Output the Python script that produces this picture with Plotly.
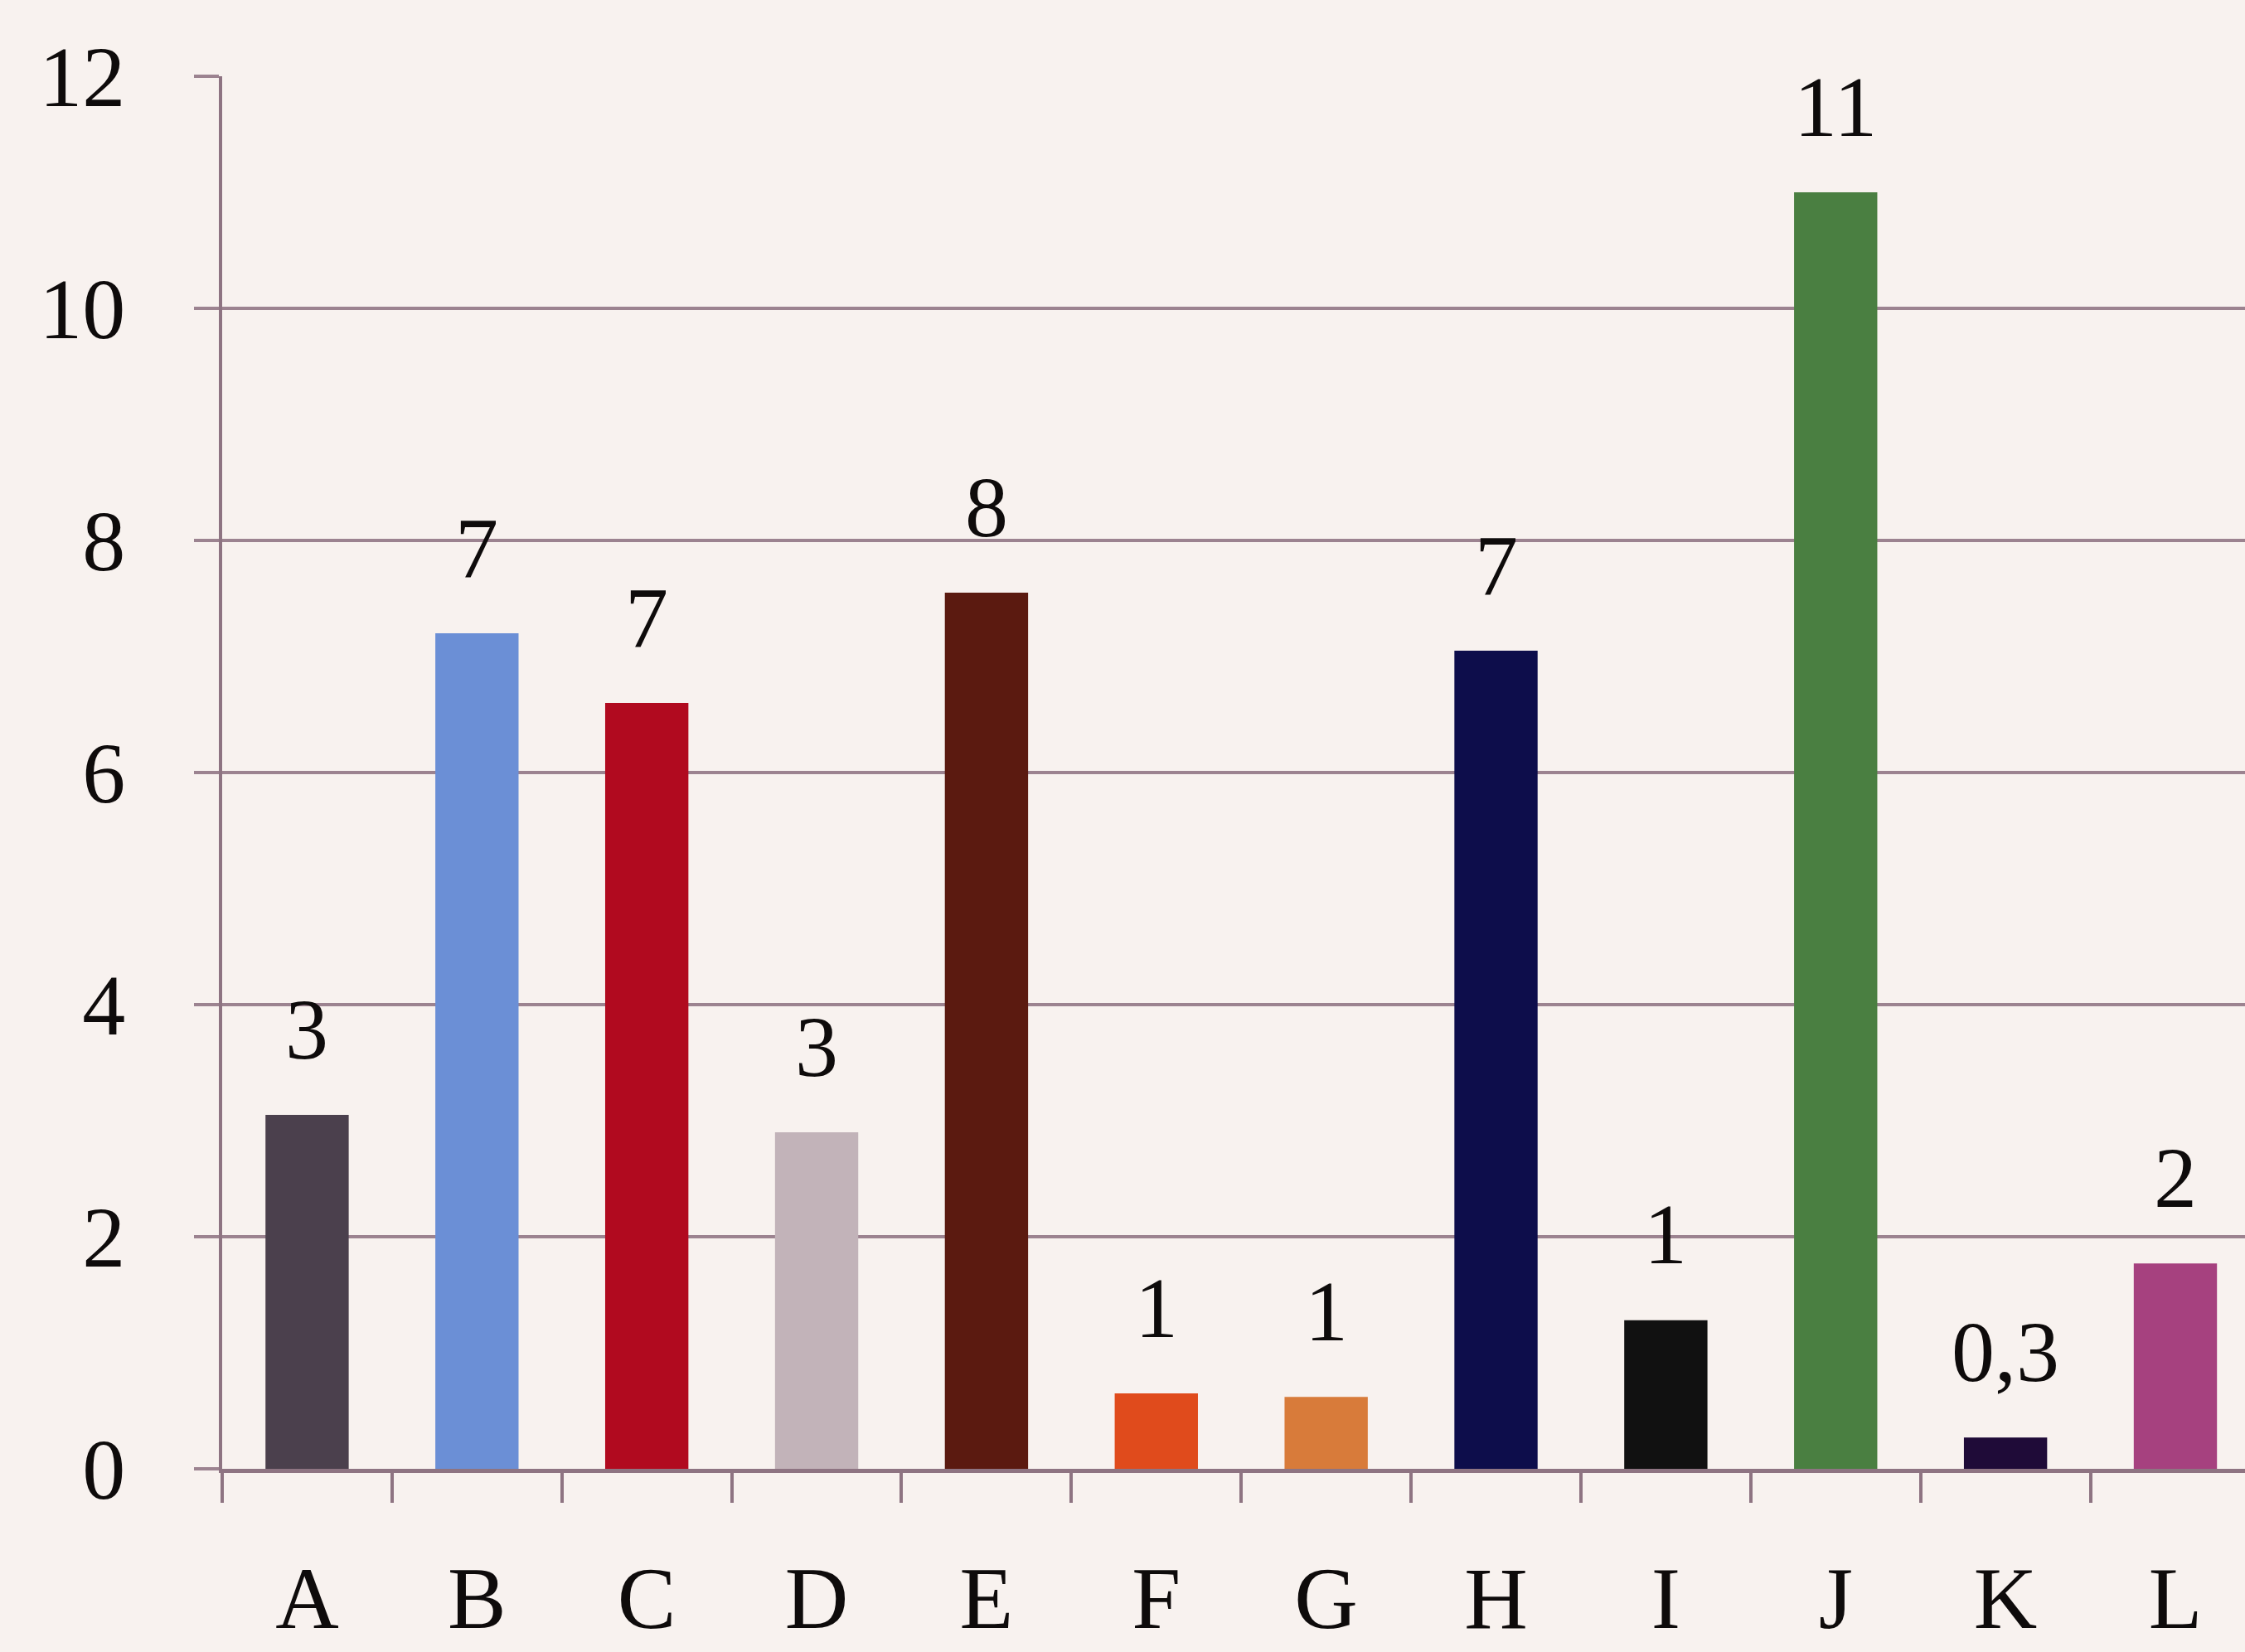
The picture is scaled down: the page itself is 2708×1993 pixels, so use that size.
import plotly.graph_objects as go

# Category names along the x axis
categories = ["A", "B", "C", "D", "E", "F", "G", "H", "I", "J", "K", "L"]
# Bar heights
values = [3.05, 7.2, 6.6, 2.9, 7.55, 0.65, 0.62, 7.05, 1.28, 11.0, 0.27, 1.77]
# Number of decimals shown in each bar's value label
label_decimals = [0, 0, 0, 0, 0, 0, 0, 0, 0, 0, 1, 0]
# Y axis tick values
y_ticks = [0, 2, 4, 6, 8, 10, 12]

bar_colors = [
    "#4b404d", "#6b8fd6", "#b10a1f", "#c2b3b9", "#5b1a10", "#e04b1c",
    "#d87b3a", "#0d0d4b", "#111111", "#4a7f41", "#1f0b38", "#a6417f",
]

SERIF = "Liberation Serif"
BG = "#f8f2ef"
GRID = "#9c8390"
AXIS = "#8e7482"
INK = "#0e0b0b"


def fmt(v, d):
    # decimal comma, as printed on the chart
    return f"{v:.{d}f}".replace(".", ",")


labels = [fmt(v, d) for v, d in zip(values, label_decimals)]

fig = go.Figure(
    go.Bar(
        x=categories,
        y=values,
        marker=dict(color=bar_colors, line=dict(width=0)),
        hoverinfo="skip",
    )
)

for cat, v, txt in zip(categories, values, labels):
    fig.add_annotation(
        x=cat, y=v, text=txt, showarrow=False,
        xanchor="center", yanchor="middle", yshift=104,
        font=dict(family=SERIF, size=104, color=INK),
    )

fig.update_layout(
    width=2708,
    height=1993,
    autosize=False,
    margin=dict(l=268, r=0, t=92, b=221, pad=0),
    paper_bgcolor=BG,
    plot_bgcolor=BG,
    bargap=0.51,
    showlegend=False,
    font=dict(family=SERIF, size=104, color=INK),
)

fig.update_xaxes(
    type="category",
    range=[-0.5, 11.41],
    automargin=False,
    showgrid=False,
    zeroline=False,
    showline=True,
    linecolor=AXIS,
    linewidth=5,
    ticks="outside",
    tickson="boundaries",
    ticklen=36,
    tickwidth=4,
    tickcolor=AXIS,
    ticklabelstandoff=60,
    tickfont=dict(family=SERIF, size=106, color=INK),
)

fig.update_yaxes(
    range=[0, 12],
    tickvals=y_ticks,
    automargin=False,
    showgrid=True,
    gridcolor=GRID,
    gridwidth=4,
    zeroline=False,
    showline=True,
    linecolor=AXIS,
    linewidth=4,
    ticks="outside",
    ticklen=30,
    tickwidth=4,
    tickcolor=GRID,
    ticklabelstandoff=62,
    tickfont=dict(family=SERIF, size=104, color=INK),
)

fig.write_html("out.html", config={"displayModeBar": False})
